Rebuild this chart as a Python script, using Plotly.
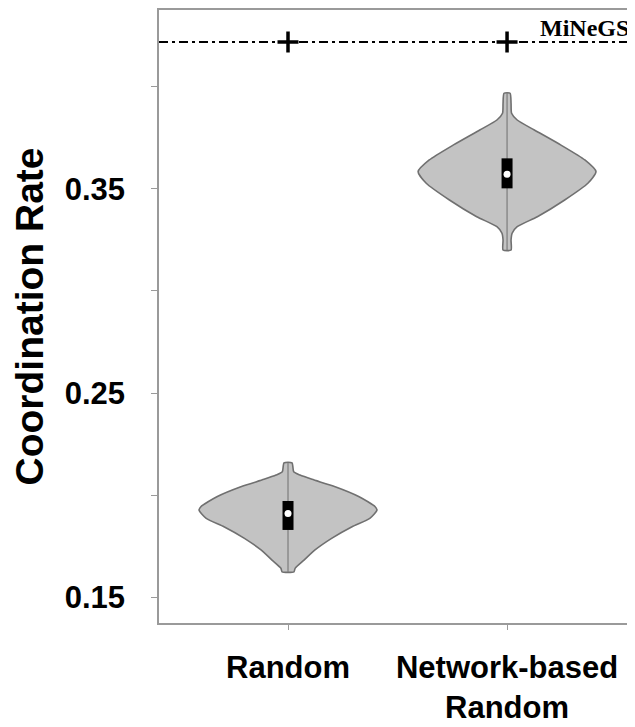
import plotly.graph_objects as go

# ---------------- data ----------------
categories = ["Random", "Network-based<br>Random"]

# density profiles: value levels (top -> bottom) and relative half-widths
random_levels = [0.2158, 0.2114, 0.2098, 0.2077, 0.2041, 0.1992, 0.1943, 0.1926,
                 0.1886, 0.1845, 0.1788, 0.1730, 0.1681, 0.1641, 0.1624]
random_density = [0.045, 0.064, 0.135, 0.27, 0.53, 0.80, 0.98, 1.0,
                  0.92, 0.72, 0.49, 0.30, 0.18, 0.08, 0.067]

network_levels = [0.3969, 0.3920, 0.3871, 0.3838, 0.3789, 0.3716, 0.3642, 0.3585,
                  0.3528, 0.3446, 0.3364, 0.3315, 0.3283, 0.3250, 0.3201]
network_density = [0.034, 0.045, 0.051, 0.114, 0.307, 0.602, 0.875, 1.0,
                   0.909, 0.648, 0.341, 0.114, 0.057, 0.045, 0.045]

q1_values = [0.1829, 0.3503]
q3_values = [0.1971, 0.3650]
median_values = [0.1910, 0.3572]

minegs_value = 0.4220
minegs_label = "MiNeGS"

y_tick_vals = [0.15, 0.20, 0.25, 0.30, 0.35, 0.40]
y_tick_text = ["0.15", "", "0.25", "", "0.35", ""]
y_title = "Coordination Rate"

# ---------------- style ----------------
HALF_W = 0.406
FILL = "#c3c3c3"
EDGE = "#707070"
FONT = "Liberation Sans, Arial, sans-serif"

fig = go.Figure()

profiles = [(random_levels, random_density), (network_levels, network_density)]
for i, (lev, den) in enumerate(profiles):
    xs = [i + d * HALF_W for d in den] + [i - d * HALF_W for d in reversed(den)]
    ys = list(lev) + list(reversed(lev))
    xs.append(xs[0]); ys.append(ys[0])
    fig.add_trace(go.Scatter(x=xs, y=ys, mode="lines", fill="toself",
                             fillcolor=FILL, line=dict(color=EDGE, width=1.6, shape="spline", smoothing=0.6),
                             hoverinfo="skip", showlegend=False))
    # center line
    fig.add_trace(go.Scatter(x=[i, i], y=[max(lev), min(lev)], mode="lines",
                             line=dict(color="#6e6e6e", width=1), showlegend=False, hoverinfo="skip"))
    # box
    fig.add_trace(go.Scatter(x=[i, i], y=[q1_values[i], q3_values[i]], mode="lines",
                             line=dict(color="black", width=11), showlegend=False, hoverinfo="skip"))
    # median
    fig.add_trace(go.Scatter(x=[i], y=[median_values[i]], mode="markers",
                             marker=dict(color="white", size=7, line=dict(width=0)),
                             showlegend=False, hoverinfo="skip"))

# MiNeGS reference line
fig.add_hline(y=minegs_value, line=dict(color="black", width=2, dash="9px,4px,3px,4px"))
fig.add_trace(go.Scatter(x=[0, 1], y=[minegs_value, minegs_value], mode="markers",
                         marker=dict(symbol="cross-thin", size=15, color="black",
                                     line=dict(color="black", width=3.5)),
                         showlegend=False, hoverinfo="skip"))
fig.add_annotation(x=1, xref="paper", xanchor="right", xshift=-2, y=minegs_value, yref="y",
                   yanchor="bottom", yshift=-1, text="<b>" + minegs_label + "</b>", showarrow=False,
                   font=dict(family="Liberation Serif, Times New Roman, serif", size=24, color="black"))

fig.update_xaxes(range=[-0.589, 1.575], tickvals=[0, 1], ticktext=["<b>%s</b>" % c for c in categories],
                 showgrid=False, zeroline=False, showline=True, linecolor="#9a9a9a", linewidth=1.5,
                 mirror=True, ticks="outside", ticklen=5, tickcolor="#9a9a9a",
                 tickfont=dict(family=FONT, size=31, color="black"), ticklabelstandoff=11)
fig.update_yaxes(range=[0.1373, 0.4377], tickvals=y_tick_vals,
                 ticktext=["<b>%s</b>" % t if t else "" for t in y_tick_text],
                 showgrid=False, zeroline=False, showline=True, linecolor="#9a9a9a", linewidth=1.5,
                 mirror=True, ticks="outside", ticklen=6, tickcolor="#9a9a9a",
                 tickfont=dict(family=FONT, size=31, color="black"), ticklabelstandoff=20,
                 title=dict(text="<b>%s</b>" % y_title, font=dict(family=FONT, size=39, color="black"),
                            standoff=14))

# page body has an 8px default margin; size/margins compensate so the plot sits as in the reference
fig.update_layout(width=627, height=719, margin=dict(l=151, r=2, t=2, b=104, autoexpand=False),
                  paper_bgcolor="white", plot_bgcolor="white")

fig.write_html("out.html")
